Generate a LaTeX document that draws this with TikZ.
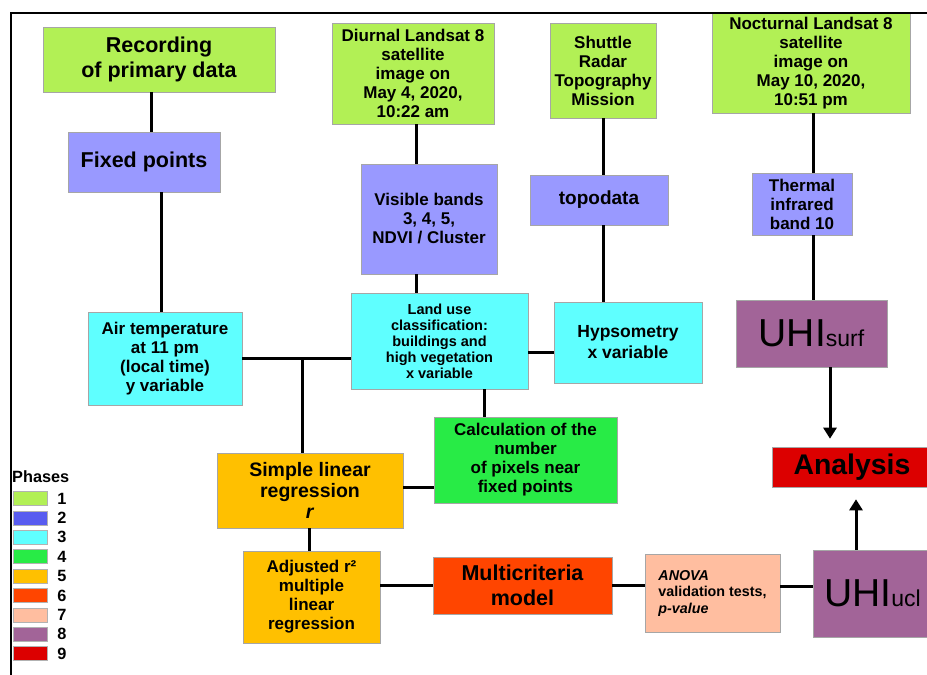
\documentclass[tikz,border=0pt]{standalone}
\usepackage{fontspec}
\setmainfont{Liberation Sans}
\usetikzlibrary{arrows.meta}

\definecolor{ph1}{RGB}{178,240,85}
\definecolor{ph2}{RGB}{153,153,255}
\definecolor{leg2}{RGB}{88,92,240}
\definecolor{ph3}{RGB}{95,255,255}
\definecolor{ph4}{RGB}{40,235,70}
\definecolor{ph5}{RGB}{255,192,0}
\definecolor{ph6}{RGB}{255,69,0}
\definecolor{ph7}{RGB}{255,190,160}
\definecolor{ph8}{RGB}{162,100,152}
\definecolor{ph9}{RGB}{220,0,0}

\begin{document}
\begin{tikzpicture}[
    x=1pt, y=-1pt,
    box/.style={draw=black!35, line width=0.6pt, align=center, inner sep=2pt},
    link/.style={line width=3pt},
    arr/.style={line width=3pt, -{Triangle[width=13pt,length=11pt]}},
    txl/.style={font=\fontsize{21.5}{25}\selectfont\bfseries},
    txm/.style={font=\fontsize{17}{19}\selectfont\bfseries},
    txs/.style={font=\fontsize{14.5}{16}\selectfont\bfseries},
    uhi/.style={font=\fontsize{39}{40}\selectfont},
    swatch/.style={draw=black!30, line width=0.5pt, minimum width=34pt, minimum height=14pt, inner sep=0pt},
]
    \useasboundingbox (0,0) rectangle (927,675);

    % phase 1 and 2
    \node[box, fill=ph1, txl, minimum width=232pt, minimum height=65pt] (rec) at (159,59.5) {Recording\\of primary data};
    \node[box, fill=ph2, txl, minimum width=152pt, minimum height=60pt] (fix) at (144,162) {Fixed points};
    \node[box, fill=ph1, txm, minimum width=162pt, minimum height=101pt] (diu) at (413,73.5) {Diurnal Landsat 8\\satellite\\image on\\May 4, 2020,\\10:22 am};
    \node[box, fill=ph1, txm, minimum width=106pt, minimum height=95pt] (srtm) at (603,70.5) {Shuttle\\Radar\\Topography\\Mission};
    \node[box, fill=ph1, txm, minimum width=198pt, minimum height=100pt] (noc) at (811,63) {Nocturnal Landsat 8\\satellite\\image on\\May 10, 2020,\\10:51 pm};
    \node[box, fill=ph2, txm, minimum width=136pt, minimum height=110pt] (vis) at (429,219) {Visible bands\\3, 4, 5,\\NDVI / Cluster};
    \node[box, fill=ph2, font=\fontsize{19}{21}\selectfont\bfseries, minimum width=138pt, minimum height=50pt] (topo) at (599,200) {topodata};
    \node[box, fill=ph2, txm, minimum width=100pt, minimum height=62pt] (tir) at (802,204) {Thermal\\infrared\\band 10};

    % phase 3 and 4
    \node[box, fill=ph3, txm, minimum width=154pt, minimum height=93pt] (air) at (165,358.5) {Air temperature\\at 11 pm\\(local time)\\y variable};
    \node[box, fill=ph3, txs, minimum width=177pt, minimum height=96pt] (lu) at (439.5,341) {Land use\\classification:\\buildings and\\high vegetation\\x variable};
    \node[box, fill=ph3, font=\fontsize{17.5}{21}\selectfont\bfseries, minimum width=148pt, minimum height=81pt] (hyp) at (628,342.5) {Hypsometry\\x variable};
    \node[box, fill=ph4, txm, minimum width=183pt, minimum height=86pt] (calc) at (525.5,460) {Calculation of the\\number\\of pixels near\\fixed points};

    % phase 5 to 9
    \node[box, fill=ph5, font=\fontsize{19.5}{21}\selectfont\bfseries, minimum width=186pt, minimum height=75pt] (slr) at (310,490.5) {Simple linear\\regression\\\textit{r}};
    \node[box, fill=ph5, txm, minimum width=137pt, minimum height=92pt] (adj) at (311.5,597) {Adjusted r²\\multiple\\linear\\regression};
    \node[box, fill=ph6, txl, minimum width=179pt, minimum height=57pt] (mcm) at (522.5,585.5) {Multicriteria\\model};
    \node[box, fill=ph7, align=left, font=\fontsize{14.3}{16.5}\selectfont\bfseries, minimum width=135pt, minimum height=78pt] (anova) at (712.5,593) {\textit{ANOVA}\\validation tests,\\\textit{p-value}};
    \node[box, fill=ph8, uhi, minimum width=151pt, minimum height=67pt] (surf) at (811.5,333.5) {UHI{\fontsize{23}{24}\selectfont surf}};
    \node[box, fill=ph8, uhi, minimum width=119pt, minimum height=87pt] (ucl) at (872.5,593.5) {UHI{\fontsize{23}{24}\selectfont ucl}};
    \node[box, fill=ph9, font=\fontsize{28.4}{30}\selectfont\bfseries, minimum width=160pt, minimum height=40pt] (ana) at (852,467) {Analysis};

    % connectors
    \draw[link] ([xshift=-8pt]rec.south) -- ([xshift=7pt]fix.north);
    \draw[link] ([xshift=17pt]fix.south) -- ([xshift=-4pt]air.north);
    \draw[link] ([xshift=3pt]diu.south) -- ([xshift=-13pt]vis.north);
    \draw[link] ([xshift=-13pt]vis.south) -- ([xshift=-23.5pt]lu.north);
    \draw[link] (srtm.south) -- ([xshift=4pt]topo.north);
    \draw[link] ([xshift=4pt]topo.south) -- ([xshift=-25pt]hyp.north);
    \draw[link] ([xshift=2pt]noc.south) -- ([xshift=11pt]tir.north);
    \draw[link] ([xshift=11pt]tir.south) -- ([xshift=1.5pt]surf.north);
    \draw[arr, shorten >=8pt] ([xshift=18.5pt]surf.south) -- ([xshift=18.5pt]surf.south |- ana.north);
    \draw[arr, shorten >=12pt] ([xshift=-16.5pt]ucl.north) -- ([xshift=-16.5pt]ucl.north |- ana.south);
    \draw[link] (air.east) -- (air.east -| lu.west);
    \coordinate (jn) at ([xshift=-8pt]slr.north |- air.east);
    \draw[link] (jn) -- ([xshift=-8pt]slr.north);
    \draw[link] ([yshift=-11pt]lu.east) -- ([yshift=-11pt]lu.east -| hyp.west);
    \draw[link] ([xshift=44.5pt]lu.south) -- ([xshift=44.5pt]lu.south |- calc.north);
    \draw[link] ([yshift=3pt]slr.east) -- ([yshift=3pt]slr.east -| calc.west);
    \draw[link] ([xshift=-1pt]slr.south) -- ([xshift=-1pt]slr.south |- adj.north);
    \draw[link] ([yshift=12pt]adj.east) -- ([yshift=12pt]adj.east -| mcm.west);
    \draw[link] (mcm.east) -- (mcm.east -| anova.west);
    \draw[link] ([yshift=7pt]anova.east) -- ([yshift=7pt]anova.east -| ucl.west);

    % legend
    \node[anchor=west, inner sep=0pt, font=\fontsize{16.3}{18}\selectfont\bfseries] (phases) at (12,477) {Phases};
    \foreach \c [count=\i] in {ph1,leg2,ph3,ph4,ph5,ph6,ph7,ph8,ph9} {
        \node[swatch, fill=\c] (sw\i) at (30,{498.5+19.4*(\i-1)}) {};
        \node[anchor=west, inner sep=0pt, font=\fontsize{16.3}{18}\selectfont\bfseries] at ([xshift=10pt]sw\i.east) {\i};
    }

    % frame
    \draw[line width=1.8pt] (11,675) -- (11,13) -- (927,13);
\end{tikzpicture}
\end{document}
